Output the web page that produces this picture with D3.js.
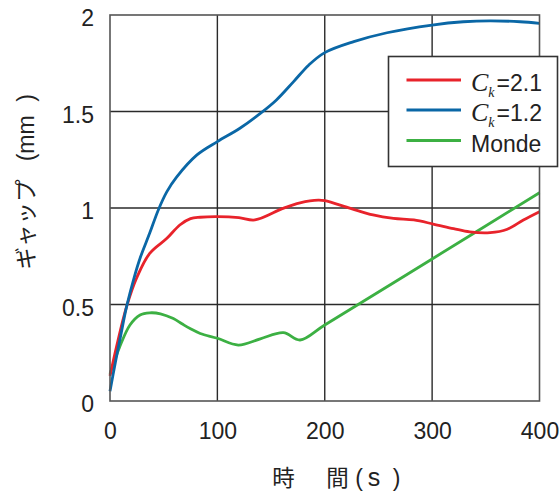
<!DOCTYPE html>
<html><head><meta charset="utf-8">
<script src="https://cdn.jsdelivr.net/npm/d3@7"></script>
<style>body{margin:0;background:#fff}svg{display:block}</style>
</head><body>
<svg id="c" width="559" height="494"></svg>
<script>
// data
const xTicks = [0, 100, 200, 300, 400];
const yTicks = [0, 0.5, 1, 1.5, 2];
const yTickLabels = ["0", "0.5", "1", "1.5", "2"];
const xLabelParts = ["時", "間", "(", "s", ")"];
const yLabelParts = ["ギャップ", "(", "mm", ")"];

const blueT = [0, 5, 10, 15.5, 23, 28, 37, 45, 53, 62, 81, 100, 121, 140, 155, 171, 185, 200, 227, 258, 300, 329, 354, 382, 400];
const blueV = [0.05, 0.2, 0.34, 0.49, 0.65, 0.74, 0.87, 0.99, 1.085, 1.16, 1.275, 1.344, 1.413, 1.49, 1.56, 1.655, 1.74, 1.805, 1.862, 1.908, 1.948, 1.965, 1.97, 1.965, 1.957];

const redT = [0, 6, 15.5, 25, 37, 53, 65, 75, 84, 100, 120, 135, 161, 177, 194, 200, 224, 245, 264, 283, 301, 320, 335, 354, 370, 385, 400];
const redV = [0.13, 0.28, 0.49, 0.64, 0.765, 0.843, 0.912, 0.945, 0.952, 0.955, 0.95, 0.938, 0.998, 1.027, 1.041, 1.038, 0.998, 0.964, 0.946, 0.938, 0.917, 0.893, 0.876, 0.872, 0.89, 0.938, 0.981];

const greenT = [0, 9, 18.6, 28, 37, 47, 59, 67, 75, 84, 100, 119.5, 140, 161.5, 177, 200, 300, 400];
const greenV = [0.14, 0.28, 0.394, 0.446, 0.457, 0.452, 0.427, 0.40, 0.374, 0.35, 0.325, 0.29, 0.322, 0.354, 0.316, 0.394, 0.736, 1.079];

const seriesNames = ["Ck=2.1", "Ck=1.2", "Monde"];
const seriesColors = ["#e8232b", "#0a67a6", "#3cb043"];

const svg = d3.select("#c");
const x = d3.scaleLinear().domain([0, 400]).range([110, 539.5]);
const y = d3.scaleLinear().domain([0, 2]).range([401, 15]);
const font = "'Liberation Sans', Arial, sans-serif";
const cjk = "'Noto Sans CJK JP', sans-serif";

// grid
const g = svg.append("g");
g.selectAll("line.vx").data(xTicks.slice(1, -1)).enter().append("line")
  .attr("x1", d => x(d)).attr("x2", d => x(d)).attr("y1", y(0)).attr("y2", y(2))
  .attr("stroke", "#2a2a2a").attr("stroke-width", 1.4);
g.selectAll("line.hy").data(yTicks.slice(1, -1)).enter().append("line")
  .attr("x1", x(0)).attr("x2", x(400)).attr("y1", d => y(d)).attr("y2", d => y(d))
  .attr("stroke", "#2a2a2a").attr("stroke-width", 1.4);

// series
const smooth = d3.line().curve(d3.curveCatmullRom.alpha(0.5)).x(d => x(d[0])).y(d => y(d[1]));
const series = [
  d3.zip(redT, redV),
  d3.zip(blueT, blueV),
  d3.zip(greenT, greenV)
];
[2, 0, 1].forEach(i => {
  svg.append("path").datum(series[i]).attr("d", smooth)
    .attr("fill", "none").attr("stroke", seriesColors[i]).attr("stroke-width", 2.8)
    .attr("stroke-linejoin", "round").attr("stroke-linecap", "butt");
});

// frame
svg.append("rect").attr("x", x(0)).attr("y", y(2)).attr("width", x(400) - x(0)).attr("height", y(0) - y(2))
  .attr("fill", "none").attr("stroke", "#555").attr("stroke-width", 1.6);

// axes labels
const yAxis = d3.axisLeft(y).tickValues(yTicks).tickFormat((d, i) => yTickLabels[i]).tickSize(0).tickPadding(16);
const ya = svg.append("g").attr("transform", `translate(${x(0)},0)`).call(yAxis);
ya.select(".domain").remove();
ya.selectAll("text").attr("font-family", font).attr("font-size", 23).attr("fill", "#222").attr("dy", "0.47em");

const xAxis = d3.axisBottom(x).tickValues(xTicks).tickFormat(d3.format("d")).tickSize(0).tickPadding(22);
const xa = svg.append("g").attr("transform", `translate(0,${y(0)})`).call(xAxis);
xa.select(".domain").remove();
xa.selectAll("text").attr("font-family", font).attr("font-size", 23).attr("fill", "#222");

// x axis title
const xl = svg.append("text").attr("y", 486).attr("text-anchor", "middle").attr("fill", "#222");
const xPos = [283.5, 337.5, 359, 374, 396.5];
xLabelParts.forEach((p, i) => {
  const isCjk = i < 2;
  xl.append("tspan").attr("x", xPos[i])
    .attr("font-family", isCjk ? cjk : font)
    .attr("font-size", isCjk ? 22.5 : (p === "s" ? 25 : 23))
    .text(p);
});
// y axis title
const yl = svg.append("text").attr("transform", "translate(34,0) rotate(-90)").attr("text-anchor", "middle").attr("fill", "#222");
const yPos = [224.5, 157.5, 134.5, 98];
yLabelParts.forEach((p, i) => {
  yl.append("tspan").attr("x", -yPos[i])
    .attr("font-family", i === 0 ? cjk : font)
    .attr("font-size", i === 0 ? 22.5 : 23)
    .text(p);
});

// legend
const lg = svg.append("g");
lg.append("rect").attr("x", 388.5).attr("y", 56.5).attr("width", 169).attr("height", 110)
  .attr("fill", "#fff").attr("stroke", "#333").attr("stroke-width", 1.6);
const rows = [80, 110, 140.5];
rows.forEach((ry, i) => {
  lg.append("line").attr("x1", 406.5).attr("x2", 461).attr("y1", ry).attr("y2", ry)
    .attr("stroke", seriesColors[i]).attr("stroke-width", 2.8);
  const t = lg.append("text").attr("x", 471).attr("y", ry + 11).attr("font-family", font).attr("font-size", 23).attr("fill", "#222");
  const nm = seriesNames[i];
  if (nm.startsWith("Ck")) {
    t.append("tspan").attr("font-family", "'Liberation Serif', serif").attr("font-style", "italic").attr("font-size", 26).text("C");
    t.append("tspan").attr("font-family", "'Liberation Serif', serif").attr("font-style", "italic").attr("font-size", 14).attr("dy", 6).text("k");
    t.append("tspan").attr("dy", -6).attr("dx", 2).text(nm.slice(2));
  } else {
    t.text(nm);
  }
});
</script>
</body></html>
